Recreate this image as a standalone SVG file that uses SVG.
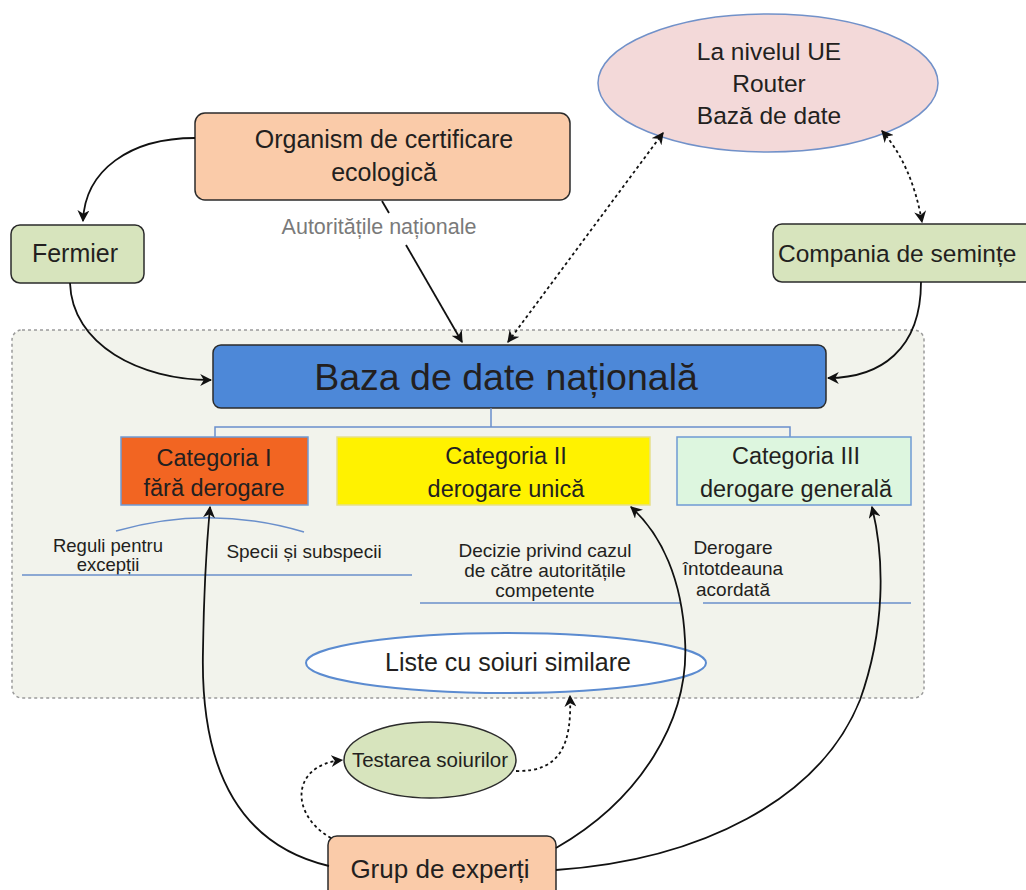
<svg xmlns="http://www.w3.org/2000/svg" width="1026" height="890" viewBox="0 0 1026 890">
<defs>
<style>
text{font-family:"Liberation Sans","Noto Sans",sans-serif;fill:#231F20;text-anchor:middle}
.t22{font-size:23.5px}
.t18{font-size:19px}
.box{stroke:#2B2B2B;stroke-width:1.5}
.peach{fill:#FACBA9}
.green{fill:#D7E4BD}
.cat{stroke:#6F9AD4;stroke-width:1.5}
.bl{stroke:#6A8FCB;stroke-width:1.5;fill:none}
.c{fill:none;stroke:#111;stroke-width:1.8}
.d{fill:none;stroke:#111;stroke-width:1.8;stroke-dasharray:3 3}
</style>
<marker id="ah" viewBox="0 0 10 10" refX="9" refY="5" markerWidth="12" markerHeight="12" orient="auto-start-reverse" markerUnits="userSpaceOnUse">
<path d="M0,0 L10,5 L0,10 L3,5 Z" fill="#111"/>
</marker>
</defs>
<rect width="1026" height="890" fill="#fff"/>

<g id="container">
<rect x="12" y="330" width="912" height="368" rx="10" fill="#F2F3EC" stroke="#9A9A9A" stroke-width="1.5" stroke-dasharray="3 3"/>
</g>

<g id="eu">
<ellipse cx="768" cy="83" rx="170" ry="69" fill="#F3D9D9" stroke="#7191C9" stroke-width="1.5"/>
<text x="769" y="60" style="font-size:24.5px">La nivelul UE</text>
<text x="769" y="92" style="font-size:24.5px">Router</text>
<text x="769" y="124" style="font-size:24.5px">Bază de date</text>
</g>

<g id="organism">
<rect class="box peach" x="195" y="113" width="375" height="87" rx="10"/>
<text x="384" y="148" style="font-size:25px">Organism de certificare</text>
<text x="384" y="181" style="font-size:25px">ecologică</text>
</g>

<g id="autoritati-label">
<text x="379" y="234" style="font-size:21.5px;fill:#7A7A7A">Autoritățile naționale</text>
</g>

<g id="fermier">
<rect class="box green" x="11" y="225" width="133" height="58" rx="9"/>
<text x="75" y="262" style="font-size:25px">Fermier</text>
</g>

<g id="companie">
<rect class="box green" x="773" y="224" width="270" height="58" rx="9"/>
<text x="778" y="262" style="text-anchor:start;font-size:24.5px">Compania de semințe</text>
</g>

<g id="baza">
<rect class="box" x="213" y="345" width="613" height="63" rx="8" fill="#4D88D8"/>
<text x="506" y="390" style="font-size:37.5px">Baza de date națională</text>
</g>

<g id="tree">
<path class="bl" d="M491,408 V427 M215,437 V427 H790 V437"/>
</g>

<g id="cat1">
<rect class="cat" x="121" y="437" width="187" height="68" fill="#F26522"/>
<text class="t22" x="214" y="466">Categoria I</text>
<text class="t22" x="214" y="496">fără derogare</text>
</g>
<g id="cat2">
<rect x="337" y="437" width="313" height="68" fill="#FFF200" stroke="#E6E08A" stroke-width="1.5"/>
<text class="t22" x="506" y="464">Categoria II</text>
<text class="t22" x="506" y="497">derogare unică</text>
</g>
<g id="cat3">
<rect class="cat" x="677" y="437" width="234" height="68" fill="#DDF6DF"/>
<text class="t22" x="796" y="464">Categoria III</text>
<text class="t22" x="796" y="497">derogare generală</text>
</g>

<g id="notes1">
<path class="bl" d="M116,531 Q210,504 304,532"/>
<text class="t18" x="108" y="552" style="font-size:18.5px">Reguli pentru</text>
<text class="t18" x="108" y="571" style="font-size:18.5px">excepții</text>
<text class="t18" x="304" y="558">Specii și subspecii</text>
<path class="bl" d="M22,575 H412"/>
</g>
<g id="notes2">
<text class="t18" x="545" y="557">Decizie privind cazul</text>
<text class="t18" x="545" y="577">de către autoritățile</text>
<text class="t18" x="545" y="597">competente</text>
<path class="bl" d="M420,603 H680"/>
</g>
<g id="notes3">
<text class="t18" x="733" y="554">Derogare</text>
<text class="t18" x="733" y="575">întotdeauna</text>
<text class="t18" x="733" y="596">acordată</text>
<path class="bl" d="M703,603 H911"/>
</g>

<g id="liste">
<ellipse cx="506" cy="663" rx="200" ry="30" fill="#FFFFFF" stroke="#5B8BD0" stroke-width="2"/>
<text x="508" y="671" style="font-size:25px">Liste cu soiuri similare</text>
</g>

<g id="testarea">
<ellipse cx="430" cy="760" rx="86" ry="38" fill="#D7E4BD" stroke="#2B2B2B" stroke-width="1.5"/>
<text x="430" y="767" style="font-size:20.5px">Testarea soiurilor</text>
</g>

<g id="grup">
<rect class="box peach" x="328" y="836" width="228" height="70" rx="9"/>
<text x="440" y="878" style="font-size:26px">Grup de experți</text>
</g>

<g id="connectors">
<path class="c" d="M195,138 C130,138 85,170 83,221" marker-end="url(#ah)"/>
<path class="c" d="M70,283 C72,345 140,380 211,380" marker-end="url(#ah)"/>
<path class="c" d="M382,201 L389,213"/>
<path class="c" d="M406,245 L462,342" marker-end="url(#ah)"/>
<path class="d" d="M508,342 L663,133" marker-start="url(#ah)" marker-end="url(#ah)"/>
<path class="d" d="M882,131 Q912,165 922,222" marker-start="url(#ah)" marker-end="url(#ah)"/>
<path class="c" d="M921,282 C921,350 880,378 828,378" marker-end="url(#ah)"/>
<path class="c" d="M329,866 C240,845 200,770 203,650 C204,580 207,540 210,507" marker-end="url(#ah)"/>
<path class="c" d="M556,848 C640,800 690,720 685,640 C682,580 662,535 631,507" marker-end="url(#ah)"/>
<path class="c" d="M556,870 C700,860 820,800 860,700 C885,630 885,560 872,507" marker-end="url(#ah)"/>
<path class="d" d="M331,838 C290,815 290,765 342,760" marker-end="url(#ah)"/>
<path class="d" d="M516,771 C560,772 572,745 570,696" marker-end="url(#ah)"/>
</g>
</svg>
